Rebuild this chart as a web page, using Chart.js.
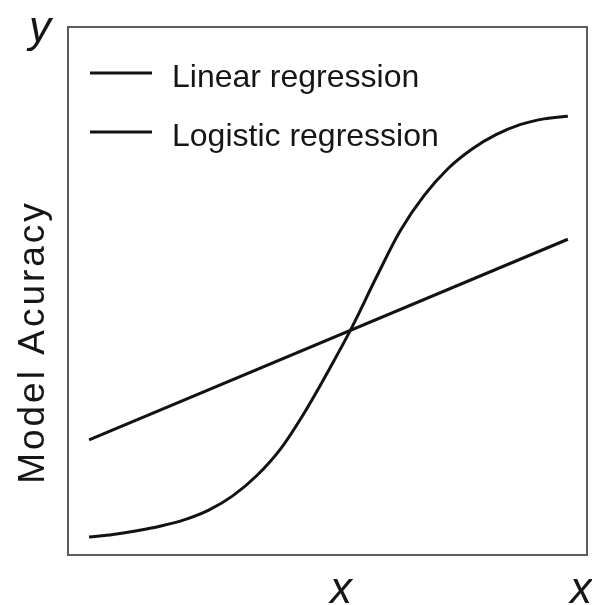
<!DOCTYPE html>
<html>
<head>
<meta charset="utf-8">
<script src="https://cdn.jsdelivr.net/npm/chart.js@4.4.1/dist/chart.umd.min.js"></script>
<style>
  html, body { margin: 0; padding: 0; background: #fff; }
  canvas { display: block; }
</style>
</head>
<body>
<canvas id="accuracy-chart" width="592" height="605"></canvas>
<script>
// Values (y in % of the plot height)
const logisticX = [0, 5, 10, 15, 20, 25, 30, 35, 40, 45, 50, 55, 60, 65, 70, 75, 80, 85, 90, 95, 100];
const logisticY = [3.4, 3.9, 4.6, 5.5, 6.7, 8.5, 11.2, 15.0, 20.1, 27.0, 34.9, 43.3, 52.6, 61.4, 68.1, 73.2, 76.9, 79.6, 81.5, 82.6, 83.1];
const linearX = [0, 100];
const linearY = [21.8, 59.8];
const seriesNames = ['Linear regression', 'Logistic regression'];
const yAxisTitle = 'Model Acuracy';
const xAxisLabel = 'x';
const yAxisLabel = 'y';

const lineColor = '#121212';

const toPoints = (xs, ys) => xs.map((x, i) => ({ x, y: ys[i] }));

// Frame, legend and the free axis letters
const decorations = {
  id: 'decorations',
  afterDraw(c) {
    const { ctx, chartArea: a } = c;
    ctx.save();
    // box around the plot
    ctx.strokeStyle = '#5c5c5c';
    ctx.lineWidth = 2;
    ctx.strokeRect(a.left, a.top, a.right - a.left, a.bottom - a.top);

    // legend, stacked in the top-left corner
    const items = c.options.plugins.legend.labels.generateLabels(c);
    ctx.font = '32px "Liberation Sans", Arial, sans-serif';
    ctx.textBaseline = 'alphabetic';
    ctx.fillStyle = '#161616';
    items.forEach((item, i) => {
      const y = 73 + i * 59;
      ctx.strokeStyle = lineColor;
      ctx.lineWidth = 3;
      ctx.beginPath();
      ctx.moveTo(90, y);
      ctx.lineTo(152, y);
      ctx.stroke();
      ctx.fillText(item.text, 172, y + 14);
    });

    // axis letters
    ctx.font = 'italic 44px "Liberation Sans", Arial, sans-serif';
    ctx.textAlign = 'center';
    ctx.fillText(yAxisLabel, 40, 42);
    ctx.fillText(xAxisLabel, 341, 603);
    ctx.fillText(xAxisLabel, 581, 603);

    // rotated y title
    ctx.translate(44, 342);
    ctx.rotate(-Math.PI / 2);
    ctx.font = '37px "Liberation Sans", Arial, sans-serif';
    ctx.letterSpacing = '3px';
    ctx.fillText(yAxisTitle, 0, 0);
    ctx.restore();
  },
};

const chart = new Chart(document.getElementById('accuracy-chart'), {
  type: 'line',
  data: {
    datasets: [
      {
        label: seriesNames[0],
        data: toPoints(linearX, linearY),
        borderColor: lineColor,
        borderWidth: 3,
        pointRadius: 0,
        tension: 0,
        fill: false,
      },
      {
        label: seriesNames[1],
        data: toPoints(logisticX, logisticY),
        borderColor: lineColor,
        borderWidth: 3,
        pointRadius: 0,
        cubicInterpolationMode: 'monotone',
        fill: false,
      },
    ],
  },
  options: {
    responsive: false,
    animation: false,
    layout: {
      padding: { left: 68, top: 27, right: 5, bottom: 50 },
    },
    scales: {
      x: { type: 'linear', display: false, min: -4.4, max: 104 },
      y: { display: false, min: 0, max: 100 },
    },
    plugins: {
      legend: { display: false },
      tooltip: { enabled: false },
    },
  },
  plugins: [decorations],
});
</script>
</body>
</html>
